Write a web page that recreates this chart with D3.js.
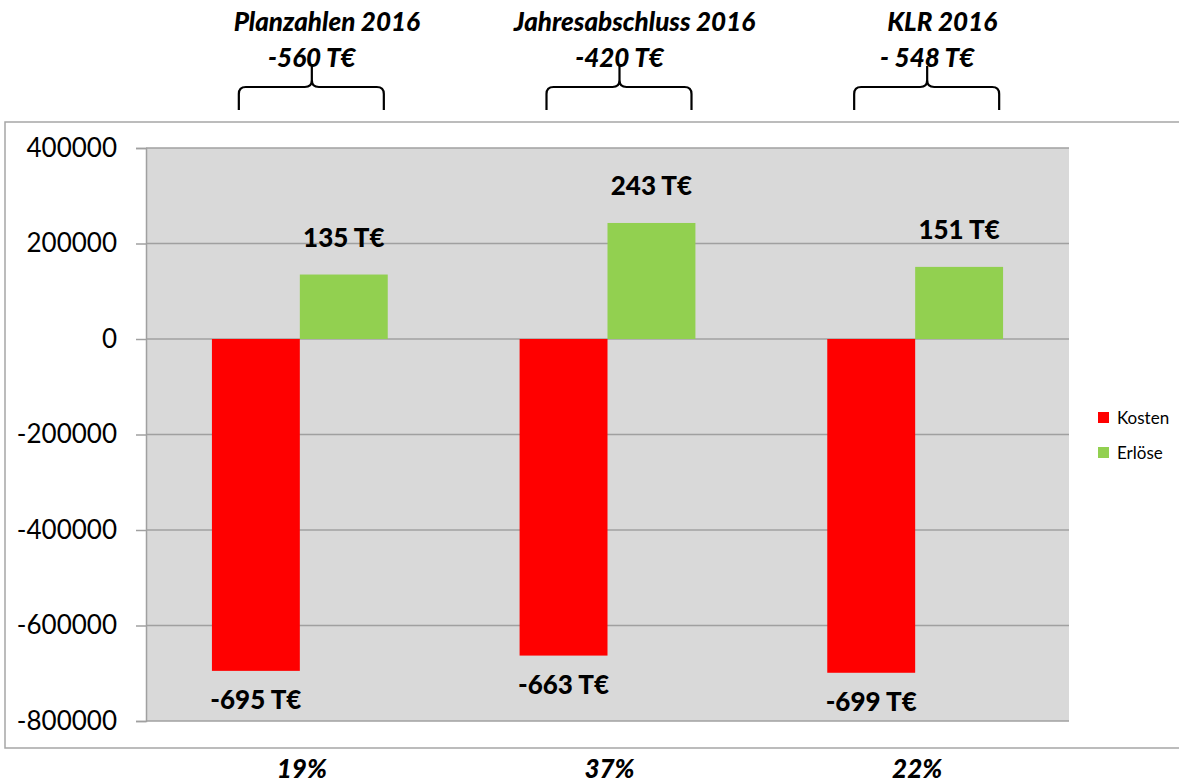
<!DOCTYPE html>
<html>
<head>
<meta charset="utf-8">
<script src="https://cdn.jsdelivr.net/npm/d3@7"></script>
<style>
  html, body { margin: 0; padding: 0; background: #ffffff; }
  svg { display: block; font-family: Lato, "Noto Sans", sans-serif; }
</style>
</head>
<body>
<svg id="chart" width="1179" height="783"></svg>
<script>
const categories = ["Planzahlen 2016", "Jahresabschluss 2016", "KLR 2016"];
const headerTotals = ["-560 T€", "-420 T€", "- 548 T€"];
const kosten = [-695000, -663000, -699000];
const erloese = [135000, 243000, 151000];
const shares = ["19%", "37%", "22%"];
const yTicks = [400000, 200000, 0, -200000, -400000, -600000, -800000];
const seriesNames = ["Kosten", "Erlöse"];
const seriesColors = ["#ff0000", "#92d050"];
const seriesValues = [kosten, erloese];

const svg = d3.select("#chart");
const plot = { left: 146, right: 1069, top: 148, bottom: 721 };

// outer chart border
svg.append("rect")
  .attr("x", 5).attr("y", 122).attr("width", 1200).attr("height", 626)
  .attr("fill", "#ffffff").attr("stroke", "#a6a6a6").attr("stroke-width", 1.5);

// plot background
svg.append("rect")
  .attr("x", plot.left).attr("y", plot.top)
  .attr("width", plot.right - plot.left).attr("height", plot.bottom - plot.top)
  .attr("fill", "#d9d9d9");

const x = d3.scaleBand().domain(categories).range([plot.left, plot.right]).padding(0);
const x1 = d3.scaleBand().domain(seriesNames).range([0, x.bandwidth()]).paddingInner(0).paddingOuter(0.75);
const y = d3.scaleLinear().domain([-800000, 400000]).range([plot.bottom, plot.top]);
const color = d3.scaleOrdinal().domain(seriesNames).range(seriesColors);

// gridlines
svg.append("g").selectAll("line").data(yTicks).join("line")
  .attr("x1", plot.left).attr("x2", plot.right)
  .attr("y1", d => y(d)).attr("y2", d => y(d))
  .attr("stroke", "#a0a0a0").attr("stroke-width", 1.5);

// y axis
const yAxis = svg.append("g")
  .attr("transform", `translate(${plot.left},0)`)
  .call(d3.axisLeft(y).tickValues(yTicks).tickSize(10).tickPadding(19).tickFormat(d => String(d)));
yAxis.select(".domain").attr("stroke", "#a0a0a0").attr("stroke-width", 1.5);
yAxis.selectAll(".tick line").attr("stroke", "#a0a0a0").attr("stroke-width", 1.5);
yAxis.selectAll(".tick text")
  .attr("fill", "#000").style("font-size", "26px").style("font-family", "Lato, 'Noto Sans', sans-serif");

// bars
const rows = [];
categories.forEach((c, i) => seriesNames.forEach((s, j) => rows.push({ cat: c, series: s, value: seriesValues[j][i] })));

svg.append("g").selectAll("rect").data(rows).join("rect")
  .attr("x", d => x(d.cat) + x1(d.series))
  .attr("width", x1.bandwidth())
  .attr("y", d => y(Math.max(0, d.value)))
  .attr("height", d => Math.abs(y(d.value) - y(0)))
  .attr("fill", d => color(d.series));

// data labels
svg.append("g").selectAll("text").data(rows).join("text")
  .attr("x", d => x(d.cat) + x1(d.series) + x1.bandwidth() / 2)
  .attr("y", d => d.value >= 0 ? y(d.value) - 28 : y(d.value) + 38)
  .attr("text-anchor", "middle")
  .style("font-size", "26px").style("font-weight", "900").attr("fill", "#000")
  .text(d => Math.round(d.value / 1000) + " T€");

// header annotations with braces
const cx = c => x(c) + x.bandwidth() / 2;
const hdr = svg.append("g");
const hdrStyle = sel => sel.attr("text-anchor", "middle")
  .style("font-size", "26px").style("font-weight", "900").style("font-style", "italic");
categories.forEach((c, i) => {
  const m = cx(c);
  const L = m - 61, R = m + 84, C = m + 12, yb = 110, yh = 87, yt = 66, r = 7;
  hdr.append("path")
    .attr("d", `M${L},${yb} L${L},${yh + r} Q${L},${yh} ${L + r},${yh} L${C - r},${yh} Q${C},${yh} ${C},${yh - r} L${C},${yt}
               M${C},${yh - r} Q${C},${yh} ${C + r},${yh} L${R - r},${yh} Q${R},${yh} ${R},${yh + r} L${R},${yb}`)
    .attr("fill", "none").attr("stroke", "#000").attr("stroke-width", 2.2);
  hdr.append("text").attr("x", m + 27).attr("y", 31).call(hdrStyle).text(c);
  hdr.append("text").attr("x", m + 12).attr("y", 67).call(hdrStyle).text(headerTotals[i]);
  svg.append("text").attr("x", m + 2).attr("y", 778).call(hdrStyle).text(shares[i]);
});

// legend
const lg = svg.append("g").attr("transform", "translate(1098,412)");
seriesNames.forEach((s, i) => {
  lg.append("rect").attr("x", 0).attr("y", i * 35).attr("width", 11).attr("height", 11).attr("fill", color(s));
  lg.append("text").attr("x", 19).attr("y", i * 35 + 12)
    .style("font-size", "17px").attr("fill", "#000").text(s);
});
</script>
</body>
</html>
